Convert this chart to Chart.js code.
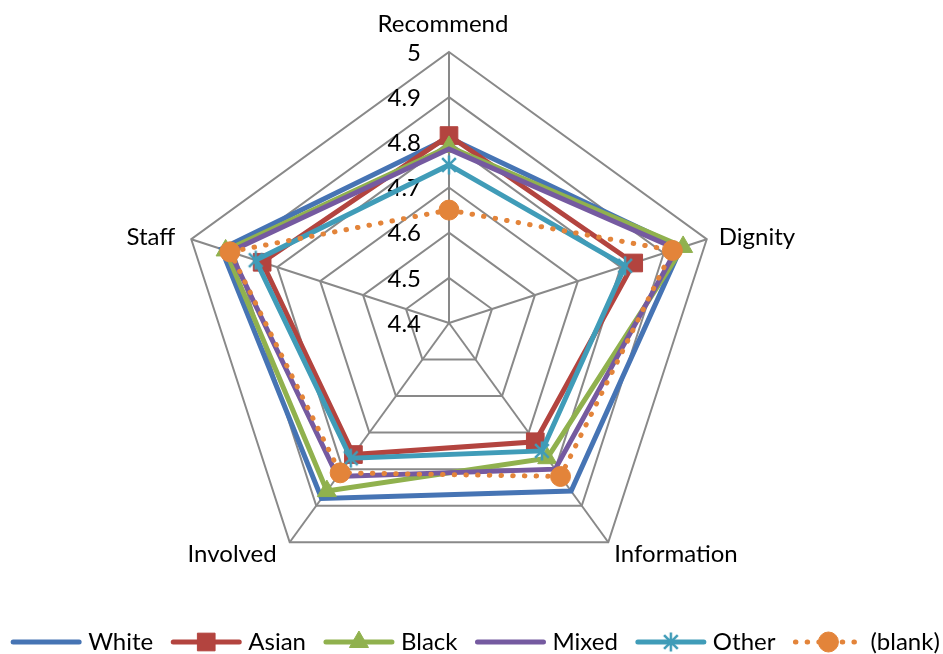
<!DOCTYPE html>
<html>
<head>
<meta charset="utf-8">
<script src="https://cdn.jsdelivr.net/npm/chart.js@4.4.1/dist/chart.umd.min.js"></script>
<style>
  html, body { margin: 0; padding: 0; background: #ffffff; }
  #wrap { width: 943px; height: 654px; }
</style>
</head>
<body>
<div id="wrap"><canvas id="c" width="943" height="654"></canvas></div>
<script>
// Axes of the radar, clockwise from the top
const categories = ['Recommend', 'Dignity', 'Information', 'Involved', 'Staff'];
const tickLabels = ['4.4', '4.5', '4.6', '4.7', '4.8', '4.9', '5'];
const seriesNames = ['White', 'Asian', 'Black', 'Mixed', 'Other', '(blank)'];

// Mean scores per group
const white = [4.81, 4.94, 4.86, 4.88, 4.93];
const asian = [4.815, 4.83, 4.725, 4.76, 4.835];
const black = [4.79, 4.945, 4.77, 4.86, 4.92];
const mixed = [4.785, 4.93, 4.80, 4.82, 4.91];
const other = [4.75, 4.81, 4.75, 4.77, 4.85];
const blank = [4.65, 4.92, 4.82, 4.81, 4.91];

const FONT = 'Lato, "Liberation Sans", sans-serif';
const FONT_SIZE = 24;

// Asterisk marker (vertical bar plus an X)
function makeStar(color, size) {
  const cv = document.createElement('canvas');
  cv.width = size; cv.height = size;
  const g = cv.getContext('2d');
  g.strokeStyle = color; g.lineWidth = 2.5; g.lineCap = 'butt';
  const m = size / 2, a = size / 2 - 1.5, d = a * 0.72;
  g.beginPath();
  g.moveTo(m, m - a); g.lineTo(m, m + a);
  g.moveTo(m - d, m - d); g.lineTo(m + d, m + d);
  g.moveTo(m + d, m - d); g.lineTo(m - d, m + d);
  g.stroke();
  return cv;
}

const colors = {
  white: '#4674B4',
  asian: '#B3443F',
  black: '#90B14E',
  mixed: '#755AA0',
  other: '#409CB8',
  blank: '#E3843A'
};

const starImg = makeStar(colors.other, 22);

function series(label, data, color, style, radius, order, extra) {
  return Object.assign({
    label: label,
    data: data,
    borderColor: color,
    backgroundColor: color,
    pointBackgroundColor: color,
    pointBorderColor: color,
    pointBorderWidth: 1,
    borderWidth: 5,
    borderJoinStyle: 'miter',
    fill: false,
    pointStyle: style,
    pointRadius: radius,
    pointHoverRadius: radius,
    order: order
  }, extra || {});
}

const datasets = [
  series(seriesNames[0], white, colors.white, false, 0, 6),
  series(seriesNames[1], asian, colors.asian, 'rect', 12.5, 5),
  series(seriesNames[2], black, colors.black, 'triangle', 11, 4),
  series(seriesNames[3], mixed, colors.mixed, false, 0, 3),
  series(seriesNames[4], other, colors.other, starImg, 11, 2),
  series(seriesNames[5], blank, colors.blank, 'circle', 10, 1,
         { borderDash: [0.5, 11.2], borderCapStyle: 'round', borderJoinStyle: 'round' })
];

// Tick values along the Recommend spoke, labelled left of it
const tickLabelPlugin = {
  id: 'tickLabelPlugin',
  beforeDatasetsDraw(chart) {
    const s = chart.scales.r, ctx = chart.ctx;
    ctx.save();
    ctx.font = FONT_SIZE + 'px ' + FONT;
    ctx.fillStyle = '#000';
    ctx.textAlign = 'right';
    ctx.textBaseline = 'middle';
    tickLabels.forEach(t => {
      const d = s.getDistanceFromCenterForValue(parseFloat(t));
      ctx.fillText(t, s.xCenter - 28, s.yCenter - d + 1);
    });
    ctx.restore();
  }
};

// Axis names placed outside each outer vertex
const axisNamePlugin = {
  id: 'axisNamePlugin',
  afterDraw(chart) {
    const s = chart.scales.r, ctx = chart.ctx;
    const place = [
      { align: 'center', dx: -6, dy: -20 },
      { align: 'left', dx: 12, dy: 6 },
      { align: 'left', dx: 6, dy: 20 },
      { align: 'right', dx: -13, dy: 20 },
      { align: 'right', dx: -16, dy: 6 }
    ];
    ctx.save();
    ctx.font = FONT_SIZE + 'px ' + FONT;
    ctx.fillStyle = '#000';
    ctx.textBaseline = 'alphabetic';
    categories.forEach((name, i) => {
      const p = s.getPointPosition(i, s.drawingArea);
      ctx.textAlign = place[i].align;
      ctx.fillText(name, p.x + place[i].dx, p.y + place[i].dy);
    });
    ctx.restore();
  }
};

// Legend row: line sample with its marker, then the series name
const legendRowPlugin = {
  id: 'legendRowPlugin',
  afterDraw(chart) {
    const ctx = chart.ctx;
    const sampleW = 72, textGap = 6, itemGap = 17, cy = 642, baseY = 650, centerX = 475;
    ctx.save();
    ctx.font = FONT_SIZE + 'px ' + FONT;
    const items = chart.data.datasets.map(ds => ({ ds, tw: ctx.measureText(ds.label).width }));
    let total = 0;
    items.forEach((it, i) => { total += sampleW + textGap + it.tw + (i ? itemGap : 0); });
    let x = centerX - total / 2;
    items.forEach(it => {
      const ds = it.ds;
      ctx.save();
      ctx.strokeStyle = ds.borderColor;
      ctx.lineWidth = ds.borderWidth;
      ctx.lineCap = 'round';
      if (ds.borderDash) ctx.setLineDash(ds.borderDash);
      ctx.beginPath();
      ctx.moveTo(x + 3, cy);
      ctx.lineTo(x + sampleW - 3, cy);
      ctx.stroke();
      ctx.restore();
      if (ds.pointStyle) {
        ctx.save();
        ctx.fillStyle = ds.pointBackgroundColor;
        ctx.strokeStyle = ds.pointBorderColor;
        ctx.lineWidth = 1;
        Chart.helpers.drawPoint(ctx, {
          pointStyle: ds.pointStyle, radius: ds.pointRadius, rotation: 0, borderWidth: 1
        }, x + sampleW / 2, cy);
        ctx.restore();
      }
      ctx.fillStyle = '#000';
      ctx.textAlign = 'left';
      ctx.textBaseline = 'alphabetic';
      ctx.fillText(ds.label, x + sampleW + textGap, baseY);
      x += sampleW + textGap + it.tw + itemGap;
    });
    ctx.restore();
  }
};

new Chart(document.getElementById('c'), {
  type: 'radar',
  data: { labels: categories, datasets: datasets },
  options: {
    responsive: false,
    animation: false,
    devicePixelRatio: 1,
    layout: { padding: { top: 52, bottom: 60, left: 178, right: 223 } },
    plugins: {
      legend: { display: false },
      tooltip: { enabled: false }
    },
    elements: { line: { tension: 0 } },
    scales: {
      r: {
        min: 4.4,
        max: 5,
        beginAtZero: false,
        ticks: { display: false, stepSize: 0.1 },
        pointLabels: { display: false },
        grid: { color: '#898989', lineWidth: 2, circular: false },
        angleLines: { color: '#898989', lineWidth: 2 }
      }
    }
  },
  plugins: [tickLabelPlugin, axisNamePlugin, legendRowPlugin]
});
</script>
</body>
</html>
